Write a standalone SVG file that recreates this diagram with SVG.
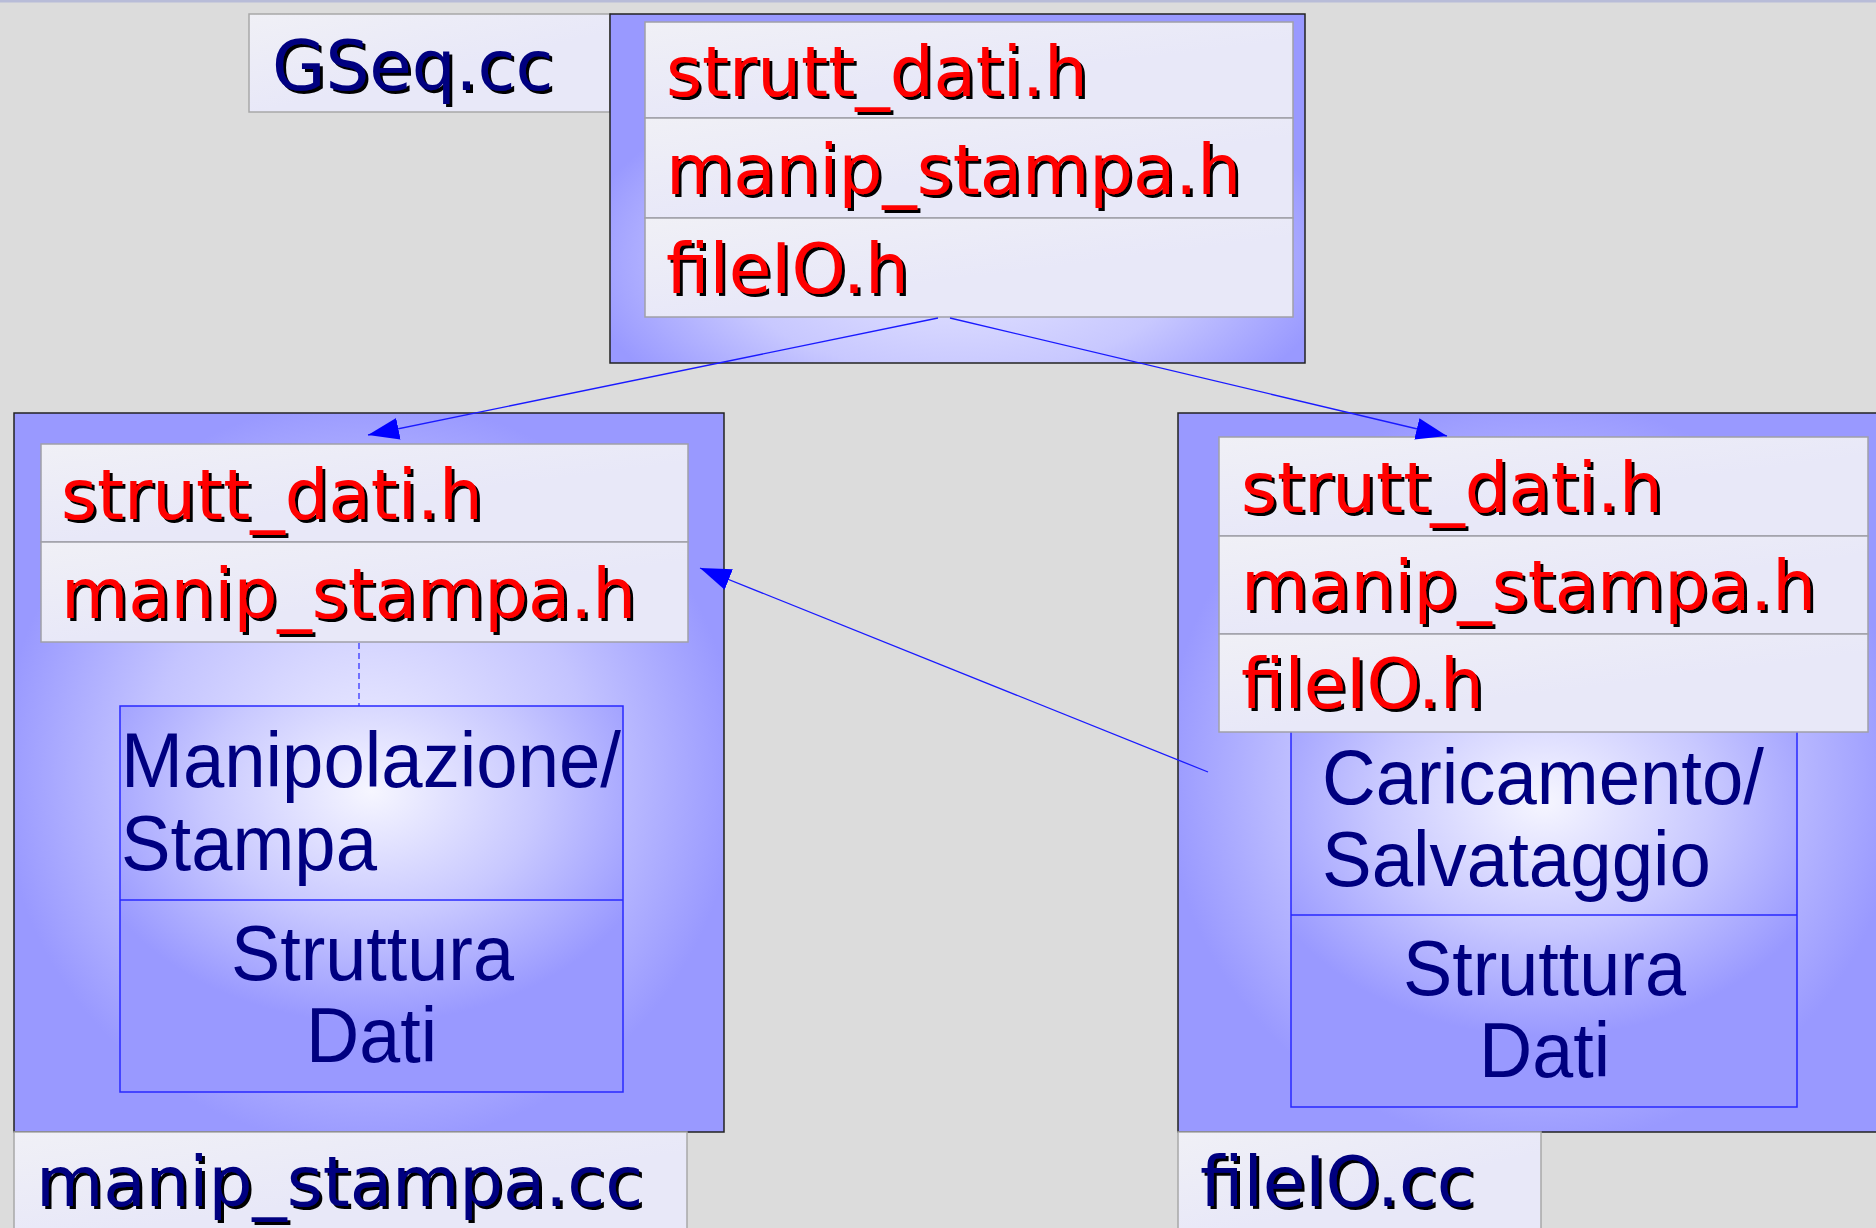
<svg xmlns="http://www.w3.org/2000/svg" width="1876" height="1228" viewBox="0 0 1876 1228">
<style>
.bg{fill:#dcdcdc}
.cont{stroke:#222;stroke-width:1.5}
.hdr{fill:url(#hdrg);stroke:#a0a0a8;stroke-width:1.5}
.lbl{fill:url(#hdrg);stroke:#a8a8a8;stroke-width:1.5}
.mod{stroke:#2828ff;stroke-width:1.5}
.div{stroke:#2828ff;stroke-width:1.5}
.ht{font-family:"DejaVu Sans",sans-serif;font-size:69px;fill:#ff0000;filter:url(#sh)}
.lt{font-family:"DejaVu Sans",sans-serif;font-size:69px;fill:#000080;filter:url(#sh)}
.mt{font-family:"Liberation Sans",Arial,sans-serif;font-size:78px;fill:#000080}
.conn{stroke:#1a1aff;stroke-width:1.3;fill:none;marker-end:url(#arr)}
</style>
<defs>
<filter id="sh" x="-5%" y="-10%" width="115%" height="130%">
<feOffset in="SourceAlpha" dx="2.5" dy="2.5" result="o"/>
<feMerge><feMergeNode in="o"/><feMergeNode in="SourceGraphic"/></feMerge>
</filter>
<linearGradient id="hdrg" x1="0" y1="0" x2="0.5" y2="0.6">
<stop offset="0" stop-color="#f0f0f6"/>
<stop offset="1" stop-color="#e8e8f8"/>
</linearGradient>
<radialGradient id="cg" cx="50%" cy="50%" r="52%">
<stop offset="0" stop-color="#eeeeff"/>
<stop offset="0.6" stop-color="#c4c4ff"/>
<stop offset="1" stop-color="#9999ff"/>
</radialGradient>
<radialGradient id="tg" cx="50%" cy="70%" r="55%">
<stop offset="0" stop-color="#e8e8ff"/>
<stop offset="0.6" stop-color="#c8c8ff"/>
<stop offset="1" stop-color="#9999ff"/>
</radialGradient>
<radialGradient id="mg" cx="50%" cy="22%" r="60%">
<stop offset="0" stop-color="#f6f6ff"/>
<stop offset="0.55" stop-color="#c8c8ff"/>
<stop offset="1" stop-color="#9999ff"/>
</radialGradient>
<marker id="arr" markerUnits="userSpaceOnUse" markerWidth="32" markerHeight="22" viewBox="0 0 32 22" refX="31" refY="11" orient="auto">
<path d="M0,0 L31,11 L0,22 z" fill="#0000ff"/>
</marker>
</defs>
<rect class="bg" x="0" y="0" width="1876" height="1228"/>
<rect x="0" y="0" width="1876" height="2.5" fill="#b8bcd8"/>

<g id="gseq-label">
<rect class="lbl" x="249" y="14" width="361" height="98"/>
<text class="lt" x="272" y="90">GSeq.cc</text>
</g>

<g id="gseq">
<rect class="cont" x="610" y="14" width="695" height="349" fill="url(#tg)"/>
<rect class="hdr" x="645" y="22" width="648" height="96"/>
<rect class="hdr" x="645" y="118" width="648" height="100"/>
<rect class="hdr" x="645" y="218" width="648" height="99"/>
<text class="ht" x="666" y="96">strutt_dati.h</text>
<text class="ht" x="666" y="194">manip_stampa.h</text>
<text class="ht" x="666" y="293">fileIO.h</text>
</g>

<g id="manip">
<rect class="cont" x="14" y="413" width="710" height="719" fill="url(#cg)"/>
<rect class="hdr" x="41" y="444" width="647" height="98"/>
<rect class="hdr" x="41" y="542" width="647" height="100"/>
<text class="ht" x="61" y="519">strutt_dati.h</text>
<text class="ht" x="61" y="618">manip_stampa.h</text>
<line x1="359" y1="643" x2="359" y2="706" stroke="#2828ff" stroke-width="1.2" stroke-dasharray="6,4"/>
<rect class="mod" x="120" y="706" width="503" height="386" fill="url(#mg)"/>
<line class="div" x1="120" y1="900" x2="623" y2="900"/>
<text class="mt" x="121" y="787" textLength="500" lengthAdjust="spacingAndGlyphs">Manipolazione/</text>
<text class="mt" x="121" y="870" textLength="256" lengthAdjust="spacingAndGlyphs">Stampa</text>
<text class="mt" x="231" y="980" textLength="283" lengthAdjust="spacingAndGlyphs">Struttura</text>
<text class="mt" x="306" y="1062" textLength="131" lengthAdjust="spacingAndGlyphs">Dati</text>
</g>

<g id="manip-label">
<rect class="lbl" x="14" y="1132" width="673" height="110"/>
<text class="lt" x="36" y="1206">manip_stampa.cc</text>
</g>

<g id="fileio">
<rect class="cont" x="1178" y="413" width="710" height="719" fill="url(#cg)"/>
<rect class="mod" x="1291" y="715" width="506" height="392" fill="url(#mg)"/>
<line class="div" x1="1291" y1="915" x2="1797" y2="915"/>
<rect class="hdr" x="1219" y="437" width="649" height="99"/>
<rect class="hdr" x="1219" y="536" width="649" height="98"/>
<rect class="hdr" x="1219" y="634" width="649" height="98"/>
<text class="ht" x="1241" y="512">strutt_dati.h</text>
<text class="ht" x="1241" y="610">manip_stampa.h</text>
<text class="ht" x="1241" y="708">fileIO.h</text>
<text class="mt" x="1322" y="804" textLength="442" lengthAdjust="spacingAndGlyphs">Caricamento/</text>
<text class="mt" x="1322" y="886" textLength="389" lengthAdjust="spacingAndGlyphs">Salvataggio</text>
<text class="mt" x="1403" y="995" textLength="283" lengthAdjust="spacingAndGlyphs">Struttura</text>
<text class="mt" x="1479" y="1077" textLength="131" lengthAdjust="spacingAndGlyphs">Dati</text>
</g>

<g id="fileio-label">
<rect class="lbl" x="1178" y="1132" width="363" height="110"/>
<text class="lt" x="1200" y="1206">fileIO.cc</text>
</g>

<g id="connectors">
<line class="conn" x1="938" y1="318" x2="368" y2="435"/>
<line class="conn" x1="950" y1="318" x2="1447" y2="436"/>
<line class="conn" x1="1208" y1="772" x2="700" y2="568"/>
</g>
</svg>
